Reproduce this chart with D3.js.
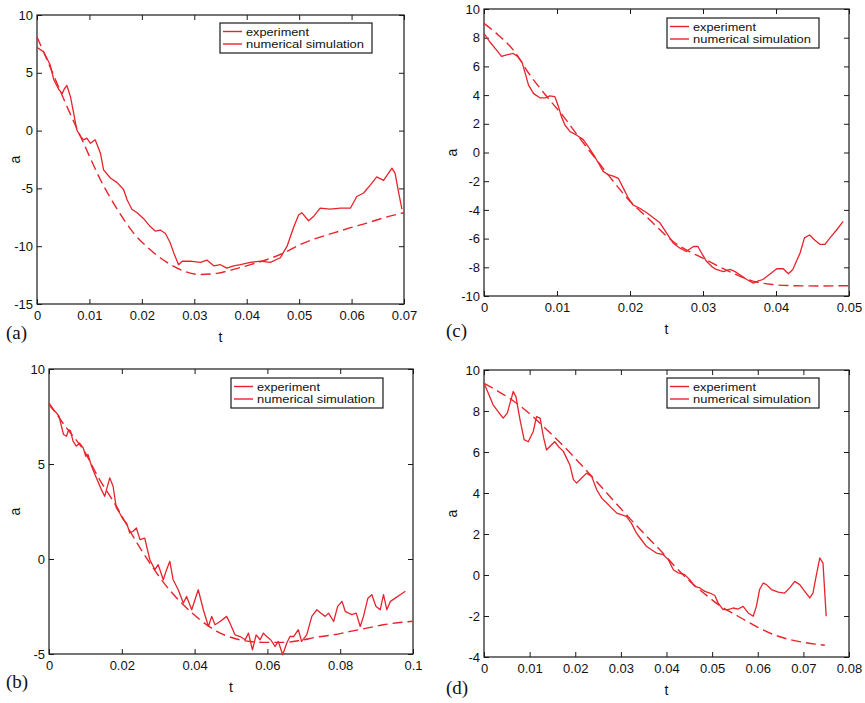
<!DOCTYPE html>
<html>
<head>
<meta charset="utf-8">
<script src="https://cdn.jsdelivr.net/npm/d3@7"></script>
<style>
  body { margin: 0; background: #fff; }
  svg text { font-family: "Liberation Sans", Arial, sans-serif; fill: #111; }
</style>
</head>
<body>
<div id="app"></div>
<script>
const d3 = window.d3;

// ---- data (t, a) ----
const expA = [[0,7.2],[0.0013,6.8],[0.0025,5.7],[0.0032,4.4],[0.0041,3.6],[0.0048,3.2],[0.0052,3.6],[0.0057,3.9],[0.0064,2.9],[0.007,1.5],[0.0076,0.05],[0.0083,-0.5],[0.0089,-0.8],[0.0095,-0.65],[0.0102,-1.1],[0.0111,-0.8],[0.0121,-1.95],[0.0127,-3.4],[0.014,-4.1],[0.0153,-4.5],[0.0165,-5.1],[0.0172,-6.0],[0.0181,-6.8],[0.0191,-7.1],[0.0203,-7.6],[0.0216,-8.3],[0.0226,-8.7],[0.0235,-8.6],[0.0245,-8.9],[0.0254,-9.7],[0.0261,-10.6],[0.027,-11.6],[0.0277,-11.3],[0.0292,-11.3],[0.0312,-11.4],[0.0324,-11.2],[0.0337,-11.7],[0.035,-11.6],[0.0362,-11.9],[0.0375,-11.7],[0.0388,-11.6],[0.0407,-11.4],[0.0426,-11.3],[0.0445,-11.4],[0.0464,-11.0],[0.0477,-10.0],[0.049,-8.3],[0.0499,-7.3],[0.0505,-7.1],[0.0518,-7.8],[0.0528,-7.4],[0.054,-6.7],[0.0559,-6.8],[0.0579,-6.7],[0.0598,-6.7],[0.061,-5.7],[0.0623,-5.4],[0.0636,-4.7],[0.0648,-4.0],[0.0661,-4.3],[0.0677,-3.25],[0.0683,-3.7],[0.069,-5.4],[0.0696,-6.8]];
const simA = [[0,8.1],[0.0025,5.5],[0.0057,2.1],[0.0089,-1.1],[0.0121,-4.25],[0.0153,-6.8],[0.0184,-8.85],[0.0216,-10.3],[0.0248,-11.4],[0.028,-12.15],[0.0311,-12.45],[0.0343,-12.35],[0.0375,-12.0],[0.0407,-11.6],[0.0439,-11.15],[0.047,-10.6],[0.0502,-9.85],[0.0534,-9.3],[0.0566,-8.85],[0.0598,-8.4],[0.0629,-8.0],[0.0661,-7.55],[0.07,-7.1]];

const expB = [[0,8.13],[0.0011,7.87],[0.002,7.7],[0.0028,7.5],[0.0034,7.0],[0.004,6.55],[0.0048,6.46],[0.0054,6.8],[0.0059,6.76],[0.0066,6.2],[0.0075,5.94],[0.0084,6.1],[0.0094,5.85],[0.0101,5.41],[0.0107,5.5],[0.0117,4.88],[0.013,4.27],[0.0144,3.65],[0.0153,3.3],[0.0158,3.65],[0.0167,4.27],[0.0176,3.83],[0.0185,2.69],[0.0194,2.42],[0.0204,2.07],[0.0213,1.9],[0.0222,1.37],[0.0231,1.46],[0.024,1.63],[0.025,1.02],[0.0263,1.1],[0.0277,-0.04],[0.0291,-0.56],[0.03,-0.3],[0.0314,-1.09],[0.0323,-0.56],[0.0332,-0.12],[0.0341,-1.09],[0.0355,-1.62],[0.0369,-2.32],[0.0378,-1.97],[0.0392,-2.67],[0.041,-1.62],[0.0424,-2.67],[0.0438,-3.55],[0.0447,-3.02],[0.0456,-3.46],[0.047,-3.29],[0.0488,-3.02],[0.0497,-3.37],[0.0511,-3.99],[0.0525,-4.08],[0.0539,-4.25],[0.0548,-3.9],[0.0559,-4.78],[0.0569,-3.99],[0.058,-4.25],[0.0589,-3.9],[0.0598,-4.08],[0.0609,-4.25],[0.0621,-4.6],[0.063,-4.34],[0.0642,-5.04],[0.0653,-4.43],[0.0662,-4.08],[0.0672,-4.08],[0.0685,-3.72],[0.0694,-4.34],[0.0708,-3.99],[0.0722,-3.02],[0.0736,-2.67],[0.0747,-2.85],[0.0759,-3.02],[0.0768,-2.85],[0.0782,-3.29],[0.0793,-2.49],[0.0805,-2.23],[0.0814,-2.76],[0.0823,-2.85],[0.0832,-2.93],[0.0844,-2.85],[0.0855,-3.55],[0.0864,-3.02],[0.0876,-2.06],[0.0887,-1.88],[0.0898,-2.49],[0.091,-2.67],[0.0919,-1.88],[0.0928,-2.67],[0.0938,-2.23],[0.0951,-2.06],[0.0965,-1.88],[0.0979,-1.7]];
const simB = [[0,8.2],[0.0048,6.9],[0.0094,5.76],[0.0139,4.18],[0.0185,2.78],[0.0231,1.19],[0.0277,-0.21],[0.0323,-1.44],[0.0369,-2.41],[0.0415,-3.2],[0.0461,-3.81],[0.0506,-4.16],[0.0552,-4.34],[0.0598,-4.39],[0.0644,-4.39],[0.069,-4.29],[0.0736,-4.11],[0.0782,-3.99],[0.0828,-3.81],[0.0873,-3.64],[0.0919,-3.46],[0.1,-3.28]];

const expC = [[0,8.3],[0.0008,7.7],[0.0017,7.15],[0.0024,6.7],[0.0031,6.8],[0.004,6.9],[0.0046,6.7],[0.0052,6.3],[0.0056,5.6],[0.0061,4.7],[0.0068,4.1],[0.0077,3.8],[0.0084,3.8],[0.009,3.95],[0.0097,3.9],[0.0102,3.2],[0.0106,2.5],[0.0111,1.9],[0.0118,1.45],[0.0127,1.2],[0.0136,0.9],[0.0143,0.4],[0.015,-0.15],[0.0157,-0.75],[0.0163,-1.3],[0.017,-1.55],[0.0177,-1.65],[0.0184,-1.8],[0.0191,-2.5],[0.0198,-3.2],[0.0204,-3.65],[0.0214,-3.9],[0.0223,-4.2],[0.0232,-4.55],[0.0241,-4.9],[0.025,-5.6],[0.0259,-6.3],[0.0268,-6.65],[0.0277,-6.9],[0.0287,-6.55],[0.0293,-6.55],[0.0298,-7.0],[0.0305,-7.6],[0.0312,-7.95],[0.0318,-8.15],[0.0328,-8.3],[0.0337,-8.15],[0.0344,-8.3],[0.035,-8.5],[0.036,-8.85],[0.0369,-9.1],[0.0376,-8.95],[0.0382,-8.85],[0.0391,-8.5],[0.0401,-8.1],[0.041,-8.1],[0.0417,-8.45],[0.0423,-8.15],[0.0433,-7.0],[0.0439,-5.95],[0.0446,-5.75],[0.0453,-6.1],[0.046,-6.4],[0.0467,-6.4],[0.0474,-5.95],[0.0483,-5.4],[0.0492,-4.8]];
const simC = [[0,9.0],[0.0017,8.3],[0.004,7.15],[0.0063,5.4],[0.0086,3.9],[0.0109,2.5],[0.0131,1.0],[0.0154,-0.5],[0.0177,-2.0],[0.02,-3.4],[0.0223,-4.5],[0.0259,-6.2],[0.0305,-7.5],[0.0341,-8.4],[0.0371,-9.0],[0.0395,-9.2],[0.0423,-9.28],[0.046,-9.3],[0.05,-9.28]];

const expD = [[0,9.35],[0.00095,8.87],[0.002,8.3],[0.0031,7.97],[0.0042,7.65],[0.0051,7.9],[0.0061,8.7],[0.0064,8.95],[0.007,8.7],[0.0079,7.57],[0.0088,6.6],[0.0097,6.5],[0.0108,7.0],[0.0115,7.73],[0.0123,7.65],[0.013,6.76],[0.0137,6.1],[0.0148,6.35],[0.0155,6.5],[0.0163,6.27],[0.0174,6.03],[0.0181,5.7],[0.0188,5.38],[0.0196,4.65],[0.0203,4.48],[0.0214,4.73],[0.0225,4.97],[0.0236,4.81],[0.0247,4.16],[0.0258,3.75],[0.0269,3.51],[0.028,3.26],[0.0291,3.02],[0.0301,2.94],[0.0312,2.86],[0.0323,2.53],[0.0334,2.05],[0.0345,1.72],[0.0356,1.4],[0.0367,1.23],[0.0378,1.07],[0.0393,0.99],[0.0404,0.75],[0.0415,0.26],[0.0426,0.1],[0.044,0.02],[0.0451,-0.23],[0.0462,-0.55],[0.0473,-0.63],[0.0484,-0.8],[0.0495,-0.88],[0.0506,-1.0],[0.0513,-1.36],[0.0524,-1.69],[0.0535,-1.69],[0.0546,-1.61],[0.0557,-1.66],[0.0568,-1.53],[0.0579,-1.85],[0.059,-2.01],[0.0597,-1.53],[0.0604,-0.71],[0.0612,-0.39],[0.0619,-0.47],[0.063,-0.71],[0.0645,-0.84],[0.0659,-0.88],[0.067,-0.63],[0.0681,-0.31],[0.0692,-0.47],[0.0703,-0.8],[0.0714,-1.12],[0.0721,-0.88],[0.0728,-0.06],[0.0736,0.83],[0.0743,0.58],[0.075,-2.01]];
const simD = [[0,9.35],[0.0028,9.0],[0.0064,8.5],[0.0101,7.85],[0.0137,7.1],[0.0174,6.3],[0.021,5.45],[0.0247,4.55],[0.0283,3.65],[0.032,2.75],[0.0356,1.9],[0.0393,1.05],[0.0415,0.5],[0.0451,-0.3],[0.0491,-1.05],[0.0517,-1.5],[0.0556,-2.0],[0.06,-2.55],[0.0634,-2.9],[0.067,-3.15],[0.0705,-3.3],[0.0747,-3.43]];

// tick values
const ticksXA = [0, 0.01, 0.02, 0.03, 0.04, 0.05, 0.06, 0.07];
const ticksYA = [-15, -10, -5, 0, 5, 10];
const ticksXB = [0, 0.02, 0.04, 0.06, 0.08, 0.1];
const ticksYB = [-5, 0, 5, 10];
const ticksXC = [0, 0.01, 0.02, 0.03, 0.04, 0.05];
const ticksYC = [-10, -8, -6, -4, -2, 0, 2, 4, 6, 8, 10];
const ticksXD = [0, 0.01, 0.02, 0.03, 0.04, 0.05, 0.06, 0.07, 0.08];
const ticksYD = [-4, -2, 0, 2, 4, 6, 8, 10];

const seriesNames = ["experiment", "numerical simulation"];

// layout of the four panels (pixel boxes)
const panels = [
  { tag: "(a)", box: [37, 15, 404, 304], xTicks: ticksXA, yTicks: ticksYA, exp: expA, sim: simA, legend: [220, 23], tagPos: [6, 339], aX: 20 },
  { tag: "(c)", box: [484, 9, 849, 296], xTicks: ticksXC, yTicks: ticksYC, exp: expC, sim: simC, legend: [667, 18], tagPos: [446, 337], aX: 457 },
  { tag: "(b)", box: [49, 369, 413, 654], xTicks: ticksXB, yTicks: ticksYB, exp: expB, sim: simB, legend: [231, 378], tagPos: [6, 688], aX: 20 },
  { tag: "(d)", box: [484, 370, 849, 657], xTicks: ticksXD, yTicks: ticksYD, exp: expD, sim: simD, legend: [667, 378], tagPos: [446, 694], aX: 457 },
];

const red = "#e8232b";
const ink = "#1a1a1a";
const fmt = (d) => (d === 0 ? "0" : String(+d.toFixed(3)));

const svg = d3.select("#app").append("svg")
  .attr("width", 865).attr("height", 703)
  .attr("viewBox", [0, 0, 865, 703]);

svg.append("rect").attr("width", 865).attr("height", 703).attr("fill", "#fff");

panels.forEach((p) => {
  const [x0, y0, x1, y1] = p.box;
  const x = d3.scaleLinear().domain(d3.extent(p.xTicks)).range([x0, x1]);
  const y = d3.scaleLinear().domain(d3.extent(p.yTicks)).range([y1, y0]);
  const g = svg.append("g");

  // axes, ticks pointing inward on all four sides
  const styleAxis = (sel) => {
    sel.select(".domain").remove();
    sel.selectAll(".tick line").attr("stroke", ink);
    sel.selectAll(".tick text").attr("fill", ink).style("font-size", "13px");
  };
  g.append("g").attr("transform", `translate(0,${y1})`)
    .call(d3.axisBottom(x).tickValues(p.xTicks).tickFormat(fmt).tickSize(-5).tickPadding(7))
    .call(styleAxis);
  g.append("g").attr("transform", `translate(0,${y0})`)
    .call(d3.axisTop(x).tickValues(p.xTicks).tickFormat("").tickSize(-5))
    .call(styleAxis);
  g.append("g").attr("transform", `translate(${x0},0)`)
    .call(d3.axisLeft(y).tickValues(p.yTicks).tickFormat(fmt).tickSize(-5).tickPadding(4))
    .call(styleAxis);
  g.append("g").attr("transform", `translate(${x1},0)`)
    .call(d3.axisRight(y).tickValues(p.yTicks).tickFormat("").tickSize(-5))
    .call(styleAxis);

  g.append("rect")
    .attr("x", x0).attr("y", y0)
    .attr("width", x1 - x0).attr("height", y1 - y0)
    .attr("fill", "none").attr("stroke", ink).attr("stroke-width", 1.2);

  const line = d3.line().x((d) => x(d[0])).y((d) => y(d[1]));

  g.append("path").datum(p.sim)
    .attr("d", line.curve(d3.curveMonotoneX))
    .attr("fill", "none").attr("stroke", red)
    .attr("stroke-width", 1.4).attr("stroke-dasharray", "10,5");

  g.append("path").datum(p.exp)
    .attr("d", line.curve(d3.curveLinear))
    .attr("fill", "none").attr("stroke", red)
    .attr("stroke-width", 1.3).attr("stroke-linejoin", "round");

  // axis titles
  g.append("text")
    .attr("x", (x0 + x1) / 2).attr("y", y1 + 38)
    .attr("text-anchor", "middle").style("font-size", "14px")
    .text("t");
  g.append("text")
    .attr("transform", `translate(${p.aX},${(y0 + y1) / 2}) rotate(-90)`)
    .attr("text-anchor", "middle").style("font-size", "14px")
    .text("a");

  // panel tag
  g.append("text")
    .attr("x", p.tagPos[0]).attr("y", p.tagPos[1])
    .style("font-family", "'Liberation Serif', 'Times New Roman', serif")
    .style("font-size", "19px")
    .text(p.tag);

  // legend
  const [lx, ly] = p.legend;
  const lg = g.append("g").attr("transform", `translate(${lx},${ly})`);
  lg.append("rect")
    .attr("width", 152).attr("height", 30)
    .attr("fill", "#fff").attr("stroke", ink).attr("stroke-width", 1.2);
  const textWidths = [63, 118];
  seriesNames.forEach((name, i) => {
    const yy = 8.5 + i * 12.5;
    lg.append("line")
      .attr("x1", 3).attr("x2", 22).attr("y1", yy).attr("y2", yy)
      .attr("stroke", red).attr("stroke-width", 1.4);
    lg.append("text")
      .attr("x", 26).attr("y", yy + 4)
      .attr("textLength", textWidths[i]).attr("lengthAdjust", "spacingAndGlyphs")
      .style("font-size", "11px")
      .text(name);
  });
});
</script>
</body>
</html>
